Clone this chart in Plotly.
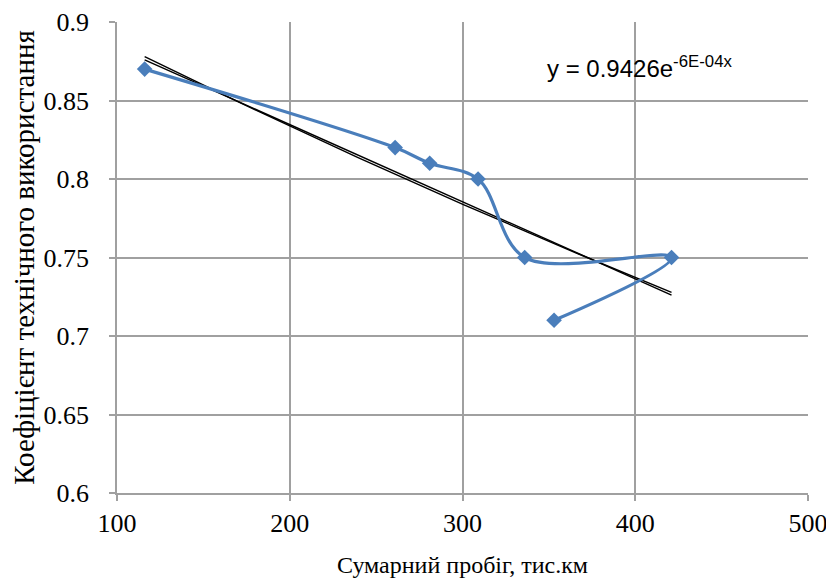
import numpy as np
import plotly.graph_objects as go

# Data
mileage = [116, 261, 281, 309, 336, 421, 353]          # thousand km
coef = [0.87, 0.82, 0.81, 0.80, 0.75, 0.75, 0.71]       # technical utilization coefficient

x_ticks = [100, 200, 300, 400, 500]
y_ticks = [0.6, 0.65, 0.7, 0.75, 0.8, 0.85, 0.9]
y_tick_labels = ["0.6", "0.65", "0.7", "0.75", "0.8", "0.85", "0.9"]

x_arr = np.array(mileage, dtype=float)
y_arr = np.array(coef, dtype=float)

# Exponential trendline (least squares on ln y) and linear trendline
k, ln_a = np.polyfit(x_arr, np.log(y_arr), 1)
a = np.exp(ln_a)
m, b = np.polyfit(x_arr, y_arr, 1)
xt = np.linspace(x_arr.min(), x_arr.max(), 100)
y_exp = a * np.exp(k * xt)
y_lin = m * xt + b

SERIF = "Liberation Serif, Times New Roman, serif"

fig = go.Figure()
fig.add_trace(go.Scatter(x=xt, y=y_lin, mode="lines",
                         line=dict(color="black", width=1.4), showlegend=False))
fig.add_trace(go.Scatter(x=xt, y=y_exp, mode="lines",
                         line=dict(color="black", width=1.4), showlegend=False))
fig.add_trace(go.Scatter(x=mileage, y=coef, mode="lines+markers",
                         line=dict(color="#4A7EBB", width=3.2, shape="spline", smoothing=1.0),
                         marker=dict(symbol="diamond", size=12, color="#4A7EBB"),
                         showlegend=False))

fig.add_annotation(x=347.5, y=0.8715, xref="x", yref="y", showarrow=False,
                   text="y = 0.9426e<sup>-6E-04x</sup>",
                   font=dict(family="Liberation Sans", size=24, color="black"),
                   xanchor="left", yanchor="middle")

axis_common = dict(showgrid=True, gridcolor="#A0A0A0", gridwidth=1.5,
                   showline=True, linecolor="#A0A0A0", linewidth=1.5,
                   ticks="outside", ticklen=6, tickcolor="#A0A0A0", tickwidth=1.5,
                   zeroline=False, automargin=False,
                   tickfont=dict(family=SERIF, size=26, color="black"))

fig.update_xaxes(range=[100, 500], tickvals=x_ticks, ticktext=[str(v) for v in x_ticks],
                 ticklabelstandoff=0,
                 title=dict(text="Сумарний пробіг, тис.км",
                            font=dict(family=SERIF, size=24, color="black"),
                            standoff=22),
                 **axis_common)
fig.update_yaxes(range=[0.6, 0.9], tickvals=y_ticks, ticktext=y_tick_labels,
                 ticklabelstandoff=15,
                 title=dict(text="Коефіцієнт технічного використання",
                            font=dict(family=SERIF, size=29, color="black"),
                            standoff=4),
                 **axis_common)

# page body has an 8px margin: shrink the figure so it fits the 834x578 window
fig.update_layout(width=826, height=570,
                  margin=dict(l=109, r=26, t=14, b=85),
                  font=dict(family=SERIF, color="black"),
                  plot_bgcolor="white", paper_bgcolor="white")

fig.write_html("out.html")
